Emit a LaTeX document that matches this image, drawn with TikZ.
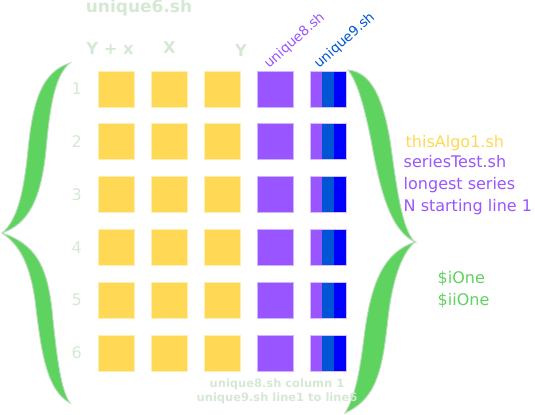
\documentclass[tikz,border=0pt]{standalone}
\usepackage{fontspec}
\setmainfont{DejaVu Sans}
\usetikzlibrary{positioning}

\definecolor{boxyellow}{HTML}{FFD955}
\definecolor{boxpurple}{HTML}{9955FF}
\definecolor{midblue}{HTML}{0055D4}
\definecolor{pureblue}{HTML}{0000FF}
\definecolor{bracegreen}{HTML}{5FD35F}
\definecolor{braceedge}{HTML}{B9DCB9}
\definecolor{paletext}{HTML}{D5E8D4}

\tikzset{
  cell/.style={minimum size=27pt, inner sep=0pt, outer sep=0pt, line width=0.5pt},
  yellowcell/.style={cell, fill=boxyellow, draw=boxyellow!45!white},
  purplecell/.style={cell, fill=boxpurple, draw=boxpurple!45!white},
  strip/.style={minimum width=9pt, minimum height=27pt, inner sep=0pt, outer sep=0pt},
  pale/.style={text=paletext, font=\fontsize{12}{14}\selectfont},
  brace/.style={fill=bracegreen, draw=braceedge, line width=0.7pt}
}

\begin{document}
\begin{tikzpicture}[x=0.75pt, y=-0.75pt]
    \useasboundingbox (0,0) rectangle (535,414);

    % Braces
    \path[brace] (2,233) .. controls (18,220) and (24,190) .. (28,150)
        .. controls (33,100) and (42,72) .. (70,63)
        .. controls (55,75) and (50,105) .. (46,150)
        .. controls (41,200) and (28,224) .. (2,233)
        .. controls (20,245) and (30,265) .. (35,300)
        .. controls (41,350) and (46,390) .. (70,403)
        .. controls (61,390) and (57,360) .. (52,310)
        .. controls (47,265) and (35,244) .. (2,233) -- cycle;
    \path[brace] (348,70) .. controls (372,72) and (383,100) .. (390,140)
        .. controls (397,190) and (402,230) .. (415,242)
        .. controls (390,230) and (380,190) .. (371,140)
        .. controls (363,100) and (356,80) .. (348,70) -- cycle;
    \path[brace] (415,242) .. controls (403,252) and (394,275) .. (389,310)
        .. controls (383,360) and (381,397) .. (345,413)
        .. controls (356,395) and (360,370) .. (365,330)
        .. controls (372,280) and (385,252) .. (415,242) -- cycle;

    % Grid
    \foreach \r in {1,...,6} {
        \node[yellowcell] (a\r) at (116.5, {89+52.8*(\r-1)}) {};
        \node[yellowcell, right=12.7pt of a\r] (b\r) {};
        \node[yellowcell, right=12.7pt of b\r] (c\r) {};
        \node[purplecell, right=12.7pt of c\r] (d\r) {};
        \node[strip, fill=boxpurple, right=12.7pt of d\r] (e\r) {};
        \node[strip, fill=midblue, right=0pt of e\r] (f\r) {};
        \node[strip, fill=pureblue, right=0pt of f\r] (g\r) {};
        \draw[boxpurple!40!white, line width=0.5pt] (e\r.north west) rectangle (g\r.south east);
        \node[pale, left=9pt of a\r] (n\r) {\r};
    }

    % Headers
    \node[pale, font=\fontsize{12.75}{15}\bfseries] (title) at (139,8) {unique6.sh};
    \node[pale, font=\fontsize{12.2}{14}\bfseries] (hyx) at (110,49) {Y + x};
    \node[pale, font=\fontsize{12.2}{14}\bfseries] (hx) at (169.5,48) {X};
    \node[pale, font=\fontsize{12.2}{14}\bfseries] (hy) at (241,51) {Y};
    \node[rotate=42, anchor=base west, inner sep=0pt, text=boxpurple, font=\fontsize{10.2}{12}\selectfont] (lab8) at (269,69) {unique8.sh};
    \node[rotate=42, anchor=base west, inner sep=0pt, text=midblue, font=\fontsize{10.2}{12}\selectfont] (lab9) at (319,69) {unique9.sh};

    % Notes
    \node[text=paletext, font=\fontsize{8.6}{10.5}\bfseries, align=center] (note) at (277,391) {unique8.sh column 1\\unique9.sh line1 to line6};
    \node[anchor=west, text=boxyellow, font=\fontsize{12}{16.5}\selectfont] (algo) at (401,143) {thisAlgo1.sh};
    \node[anchor=west, text=boxpurple, font=\fontsize{12}{16.5}\selectfont, align=left] (series) at (399,185) {seriesTest.sh\\longest series\\N starting line 1};
    \node[anchor=west, text=bracegreen, font=\fontsize{12}{16.5}\selectfont, align=left] (vars) at (433,290) {\$iOne\\\$iiOne};
\end{tikzpicture}
\end{document}
